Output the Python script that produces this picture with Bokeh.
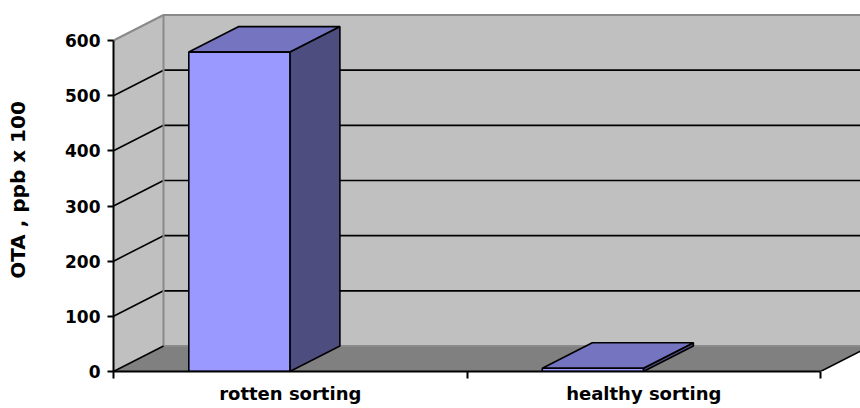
from bokeh.plotting import figure
from bokeh.models import FixedTicker, Range1d
from bokeh.embed import file_html
from bokeh.resources import INLINE

# ---- data ----
categories = ["rotten sorting", "healthy sorting"]
values = [579, 6]
y_ticks = [0, 100, 200, 300, 400, 500, 600]
y_label = "OTA , ppb x 100"

# ---- geometry (pixel scale of the reference) ----
PX_PER_CAT = 353.5
PX_PER_UNIT = 331 / 600
DX = 50 / PX_PER_CAT          # depth offset in category units
DY = 25.5 / PX_PER_UNIT       # depth offset in value units
BAR_L, BAR_R = 0.213, 0.499   # bar front face within a category
YMAX = y_ticks[-1]
NCAT = len(categories)

W, H = 860, 408
ML, MB, MT, MR = 113, 37, 8, 0
FW, FH = W - ML - MR, H - MB - MT

p = figure(width=W, height=H, output_backend="svg", toolbar_location=None,
           x_range=Range1d(0, FW / PX_PER_CAT), y_range=Range1d(0, FH / PX_PER_UNIT),
           min_border_left=ML, min_border_bottom=MB, min_border_top=MT, min_border_right=MR)
p.outline_line_color = None
p.grid.visible = False
p.background_fill_color = "white"

XE = NCAT + 1.0  # beyond the right edge of the frame

# walls and floor
side = ([0, 0, DX, DX], [0, YMAX, YMAX + DY, DY])
back = ([DX, XE, XE, DX], [DY, DY, YMAX + DY, YMAX + DY])
p.patches([side[0], back[0]], [side[1], back[1]], fill_color="#c0c0c0", line_color=None)
p.patch([0, NCAT, NCAT + DX, XE, XE, DX], [0, 0, DY, DY, DY, DY],
        fill_color="#808080", line_color=None)

# gridlines (black) on side + back walls
gx, gy = [], []
for t in y_ticks[1:-1]:
    gx.append([0, DX, XE]); gy.append([t, t + DY, t + DY])
p.multi_line(gx, gy, line_color="black", line_width=1.6)

# wall borders (gray)
p.multi_line([[0, DX, XE], [DX, DX], [DX, XE]],
             [[YMAX, YMAX + DY, YMAX + DY], [DY, YMAX + DY], [DY, DY]],
             line_color="#8a8a8a", line_width=2)
# floor side edges (black)
p.multi_line([[0, DX], [NCAT, NCAT + DX]], [[0, DY], [0, DY]],
             line_color="black", line_width=1.6)

# 3D bars
for i, v in enumerate(values):
    x0, x1 = i + BAR_L, i + BAR_R
    p.patch([x1, x1 + DX, x1 + DX, x1], [0, DY, v + DY, v],
            fill_color="#4d4d80", line_color="black", line_width=1.6)
    p.patch([x0, x1, x1 + DX, x0 + DX], [v, v, v + DY, v + DY],
            fill_color="#7474c0", line_color="black", line_width=1.6)
    p.quad(left=[x0], right=[x1], bottom=[0], top=[v],
           fill_color="#9999ff", line_color="black", line_width=1.6)

FONT = "DejaVu Sans"

# y axis
ya = p.yaxis[0]
ya.ticker = FixedTicker(ticks=y_ticks)
ya.bounds = (0, YMAX)
ya.major_tick_in = 0
ya.major_tick_out = 6
ya.minor_tick_in = 0
ya.minor_tick_out = 0
ya.axis_line_width = 2
ya.major_tick_line_width = 2
ya.major_label_text_font = FONT
ya.major_label_text_font_style = "bold"
ya.major_label_text_font_size = "17px"
ya.major_label_text_color = "black"
ya.major_label_standoff = 7
ya.axis_label = y_label
ya.axis_label_text_font = FONT
ya.axis_label_text_font_style = "bold"
ya.axis_label_text_font_size = "20px"
ya.axis_label_text_color = "black"
ya.axis_label_standoff = 32

# x axis
xa = p.xaxis[0]
centers = [i + 0.5 for i in range(NCAT)]
xa.ticker = FixedTicker(ticks=centers, minor_ticks=list(range(NCAT + 1)))
xa.major_label_overrides = {c: lab for c, lab in zip(centers, categories)}
xa.bounds = (0, NCAT)
xa.major_tick_in = 0
xa.major_tick_out = 0
xa.minor_tick_in = 0
xa.minor_tick_out = 7
xa.minor_tick_line_width = 2
xa.axis_line_width = 2
xa.major_label_text_font = FONT
xa.major_label_text_font_style = "bold"
xa.major_label_text_font_size = "18px"
xa.major_label_text_color = "black"
xa.major_label_standoff = 4

open("out.html", "w").write(file_html(p, INLINE))
